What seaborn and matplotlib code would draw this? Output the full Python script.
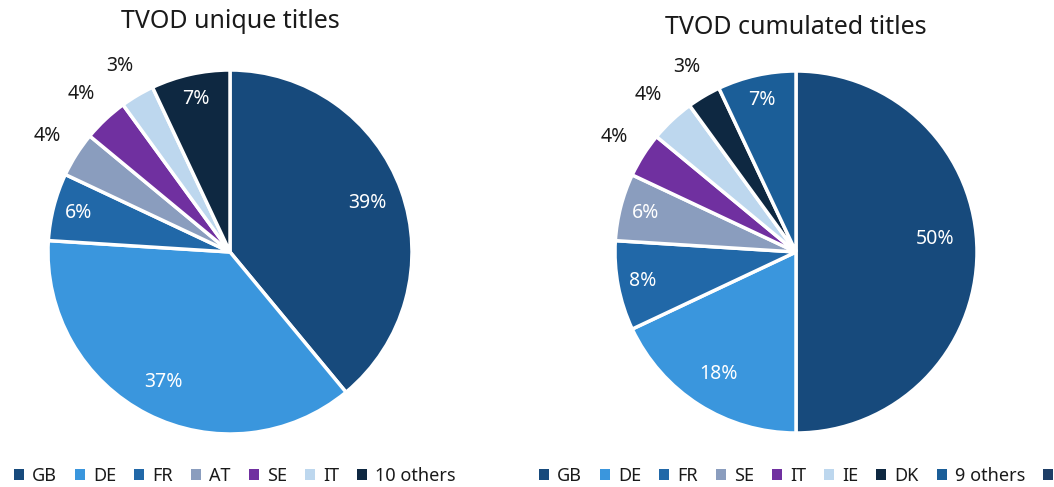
import matplotlib
matplotlib.use("Agg")
import matplotlib.pyplot as plt
import seaborn as sns
import numpy as np
from matplotlib.patches import Patch

# Data
left_title = "TVOD unique titles"
left_labels = ["GB", "DE", "FR", "AT", "SE", "IT", "10 others"]
left_values = [39, 37, 6, 4, 4, 3, 7]
left_colors = ["#174A7C", "#3A96DD", "#2168A8", "#8A9DBE", "#7030A0", "#BDD7EE", "#0E2841"]

right_title = "TVOD cumulated titles"
right_labels = ["GB", "DE", "FR", "SE", "IT", "IE", "DK", "9 others", ""]
right_values = [50, 18, 8, 6, 4, 4, 3, 7, 0]
right_colors = ["#174A7C", "#3A96DD", "#2168A8", "#8A9DBE", "#7030A0", "#BDD7EE", "#0E2841", "#1B5E98", "#1E3E66"]

sns.set_style("white")
plt.rcParams["font.family"] = ["Noto Sans", "DejaVu Sans"]

fig = plt.figure(figsize=(10.54, 4.87), dpi=100)
W, H = 1054, 487


def draw_pie(cx, cy, r, labels, values, colors, title, title_y, legend_x, nudge=None):
    nudge = nudge or {}
    ax = fig.add_axes([(cx - r) / W, (H - cy - r) / H, 2 * r / W, 2 * r / H])
    vals = [v for v in values if v > 0]
    cols = [c for v, c in zip(values, colors) if v > 0]
    wedges, _ = ax.pie(vals, colors=cols, startangle=90, counterclock=False,
                       radius=1, wedgeprops=dict(edgecolor="white", linewidth=2.5))
    total = sum(vals)
    for i, (w, v) in enumerate(zip(wedges, vals)):
        ang = np.deg2rad((w.theta1 + w.theta2) / 2)
        share = v / total
        if share >= 0.15:
            dist, col = 0.80, "white"
        elif share >= 0.05:
            dist, col = 0.86, "white"
        else:
            dist, col = 1.19, "#1a1a1a"
        dx, dy = nudge.get(i, (0, 0))
        ax.text(dist * np.cos(ang) + dx, dist * np.sin(ang) + dy, f"{v}%", ha="center",
                va="center", color=col, fontsize=14)
    ax.set_xlim(-1, 1)
    ax.set_ylim(-1, 1)
    ax.set_aspect("equal")
    ax.axis("off")
    fig.text(cx / W, 1 - title_y / H, title, ha="center", va="center",
             fontsize=18, color="#1a1a1a")
    handles = [Patch(facecolor=c, edgecolor="none") for c in colors]
    fig.legend(handles, labels, loc="center", bbox_to_anchor=(legend_x / W, 1 - 476 / H),
               ncol=len(labels), frameon=False, fontsize=13, handlelength=0.55,
               handleheight=0.55, handletextpad=0.45, columnspacing=1.0,
               labelcolor="#1a1a1a")


draw_pie(230, 252, 182, left_labels, left_values, left_colors, left_title, 22, 235)
draw_pie(796, 252, 181, right_labels, right_values, right_colors, right_title, 27, 800,
         nudge={0: (-0.03, 0.07)})

plt.savefig("out.png", dpi=100)
